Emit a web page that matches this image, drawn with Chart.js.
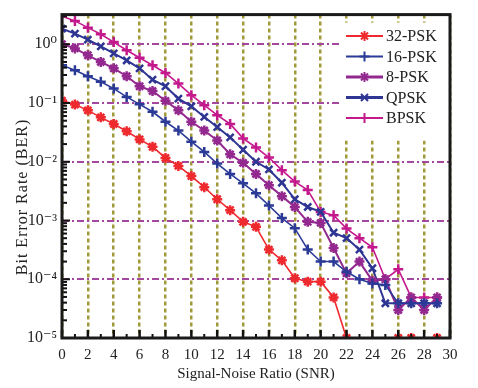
<!DOCTYPE html>
<html>
<head>
    <meta charset="utf-8">
    <script src="https://cdn.jsdelivr.net/npm/chart.js"></script>
    <title>BER vs SNR</title>
    <style>
        html, body {
            margin: 0;
            padding: 0;
            background: #fff;
        }

        #wrap {
            width: 478px;
            height: 388px;
        }
    </style>
</head>
<body>
    <div id="wrap"><canvas id="chart" width="478" height="388"></canvas></div>
    <script>
        const snr = [0, 1, 2, 3, 4, 5, 6, 7, 8, 9, 10, 11, 12, 13, 14, 15, 16, 17, 18, 19, 20, 21, 22, 23, 24, 25, 26, 27, 28, 29]
        const seriesNames = ['32-PSK', '16-PSK', '8-PSK', 'QPSK', 'BPSK']

        // null = error rate fell below the plotted range
        const ber32psk = [0.11, 0.094, 0.075, 0.057, 0.044, 0.033, 0.024, 0.018, 0.0116, 0.0085,
            0.0057, 0.0037, 0.0023, 0.0015, 0.00095, 0.00078, 0.00032, 0.00021, 0.000104, 0.000091,
            0.000091, 0.000049, 1e-5, null, null, null, 1e-5, 1e-5, null, 1e-5]
        const ber16psk = [0.44, 0.36, 0.286, 0.23, 0.176, 0.127, 0.095, 0.071, 0.048, 0.034,
            0.022, 0.0147, 0.0093, 0.0062, 0.0043, 0.0029, 0.0018, 0.0011, 0.00074, 0.00032,
            0.0002, 0.0002, 0.000134, 0.0001, 0.000085, 0.00008, 0.000039, 0.000039, 0.000039, 0.000039]
        const ber8psk = [1.0, 0.85, 0.65, 0.50, 0.39, 0.286, 0.193, 0.16, 0.109, 0.075,
            0.048, 0.034, 0.023, 0.0134, 0.0096, 0.0062, 0.0040, 0.0026, 0.0017, 0.00095,
            0.00091, 0.00034, 0.000126, 0.0002, 0.000094, 0.0001, 0.00003, 0.000049, 0.00003, 0.000049]
        const berQpsk = [1.85, 1.52, 1.2, 0.92, 0.70, 0.53, 0.39, 0.25, 0.193, 0.119,
            0.088, 0.058, 0.039, 0.026, 0.016, 0.01, 0.0074, 0.0044, 0.0023, 0.0017,
            0.0014, 0.00062, 0.0005, 0.00032, 0.000154, 0.000039, 0.000039, 0.000039, 0.000039, 0.000039]
        const berBpsk = [3.0, 2.5, 1.92, 1.48, 1.09, 0.79, 0.59, 0.44, 0.325, 0.214,
            0.136, 0.092, 0.062, 0.044, 0.025, 0.0175, 0.0118, 0.0072, 0.0046, 0.0033,
            0.0014, 0.00123, 0.00073, 0.0005, 0.00035, 0.0001, 0.000148, 0.000049, 0.000049, 0.000049]

        const yTicks = [1e-5, 1e-4, 1e-3, 1e-2, 1e-1, 1e0]
        const xTicks = [0, 2, 4, 6, 8, 10, 12, 14, 16, 18, 20, 22, 24, 26, 28, 30]
        const yTitle = 'Bit Error Rate (BER)'

        const serif = "'Liberation Serif', 'DejaVu Serif', serif"
        const sup = { '0': '\u2070', '1': '\u00b9', '2': '\u00b2', '3': '\u00b3', '4': '\u2074', '5': '\u2075', '-': '\u207b' }

        const styles = [
            { color: '#ee2a2f', point: 'star', width: 1.6 },
            { color: '#2b3a96', point: 'cross', width: 1.6 },
            { color: '#93288f', point: 'star', width: 2 },
            { color: '#2e3592', point: 'crossRot', width: 2 },
            { color: '#c4198d', point: 'cross', width: 1.6 }
        ]
        const allData = [ber32psk, ber16psk, ber8psk, berQpsk, berBpsk]

        const datasets = allData.map(function (vals, i) {
            return {
                label: seriesNames[i],
                data: snr.map(function (x, j) { return { x: x, y: vals[j] } }),
                borderColor: styles[i].color,
                backgroundColor: styles[i].color,
                borderWidth: styles[i].width,
                pointStyle: styles[i].point,
                pointRadius: 5,
                pointBorderWidth: 2.5,
                spanGaps: false,
                tension: 0
            }
        })

        // frame, inward ticks, y title and the boxed legend
        const decor = {
            id: 'decor',
            afterDraw: function (chart) {
                const ctx = chart.ctx
                const a = chart.chartArea
                const xs = chart.scales.x
                const ys = chart.scales.y
                ctx.save()

                // legend box
                ctx.fillStyle = '#fff'
                ctx.fillRect(342, a.top + 8, a.right - 342, 118)
                const rows = [36, 56.5, 77, 97.5, 118]
                rows.forEach(function (ry, i) {
                    const st = styles[i]
                    ctx.strokeStyle = st.color
                    ctx.lineWidth = (i === 2 || i === 3) ? 3 : 2
                    ctx.beginPath()
                    ctx.moveTo(346, ry)
                    ctx.lineTo(383, ry)
                    ctx.stroke()
                    ctx.lineWidth = 2
                    Chart.helpers.drawPoint(ctx, { pointStyle: st.point, radius: 5, borderWidth: 2 }, 364.5, ry)
                    ctx.fillStyle = '#222'
                    ctx.font = '16px ' + serif
                    ctx.textBaseline = 'middle'
                    ctx.textAlign = 'left'
                    ctx.fillText(seriesNames[i], 386, ry + 1)
                })

                // inward ticks
                ctx.strokeStyle = '#111'
                for (let v = 0; v <= 30; v++) {
                    const px = xs.getPixelForValue(v)
                    const len = v % 2 === 0 ? 8 : 4
                    ctx.lineWidth = v % 2 === 0 ? 2.5 : 2
                    ctx.beginPath()
                    ctx.moveTo(px, a.bottom)
                    ctx.lineTo(px, a.bottom - len)
                    ctx.stroke()
                }
                for (let e = -5; e <= 0; e++) {
                    for (let m = 1; m <= 9; m++) {
                        const v = m * Math.pow(10, e)
                        if (v > ys.max) break
                        const py = ys.getPixelForValue(v)
                        ctx.lineWidth = 2
                        ctx.beginPath()
                        ctx.moveTo(a.left, py)
                        ctx.lineTo(a.left + (m === 1 ? 8 : 5), py)
                        ctx.stroke()
                    }
                }

                // frame
                ctx.strokeStyle = '#1a1a1a'
                ctx.lineWidth = 3
                ctx.strokeRect(a.left, a.top, a.right - a.left, a.bottom - a.top)

                // y title (sits a bit lower than the plot centre in the original)
                ctx.translate(23, 197)
                ctx.rotate(-Math.PI / 2)
                ctx.fillStyle = '#222'
                ctx.font = '16px ' + serif
                ctx.letterSpacing = '1px'
                ctx.textAlign = 'center'
                ctx.textBaseline = 'middle'
                ctx.fillText(yTitle, 0, 0)
                ctx.restore()
            }
        }

        new Chart(document.getElementById('chart'), {
            type: 'line',
            data: { datasets: datasets },
            plugins: [decor],
            options: {
                responsive: false,
                animation: false,
                layout: { padding: { top: 14, right: 28, bottom: 0, left: 0 } },
                plugins: {
                    legend: { display: false },
                    tooltip: { enabled: false }
                },
                scales: {
                    x: {
                        type: 'linear',
                        min: 0,
                        max: 30,
                        afterBuildTicks: function (scale) {
                            scale.ticks = xTicks.map(function (v) { return { value: v } })
                        },
                        afterFit: function (scale) { scale.height = 50 },
                        grid: {
                            color: '#a19a3a',
                            lineWidth: 2.5,
                            drawTicks: false
                        },
                        border: { display: false, dash: [4, 3] },
                        ticks: {
                            color: '#222',
                            padding: 8,
                            maxRotation: 0,
                            font: { family: serif, size: 15 }
                        },
                        title: {
                            display: true,
                            text: 'Signal-Noise Ratio (SNR)',
                            color: '#222',
                            padding: { top: 0, bottom: 5 },
                            font: { family: serif, size: 15 }
                        }
                    },
                    y: {
                        type: 'logarithmic',
                        min: 1e-5,
                        max: 3.2,
                        afterBuildTicks: function (scale) {
                            scale.ticks = yTicks.map(function (v) { return { value: v } })
                        },
                        afterFit: function (scale) { scale.width = 62 },
                        grid: {
                            color: '#a4479f',
                            lineWidth: 2,
                            drawTicks: false
                        },
                        border: { display: false, dash: [7, 3, 2, 3] },
                        ticks: {
                            color: '#222',
                            padding: 5,
                            font: { family: serif, size: 16 },
                            callback: function (v) {
                                const e = String(Math.round(Math.log10(v)))
                                return '10' + e.split('').map(function (c) { return sup[c] }).join('')
                            }
                        },
                        title: { display: false }
                    }
                }
            }
        })
    </script>
</body>
</html>
